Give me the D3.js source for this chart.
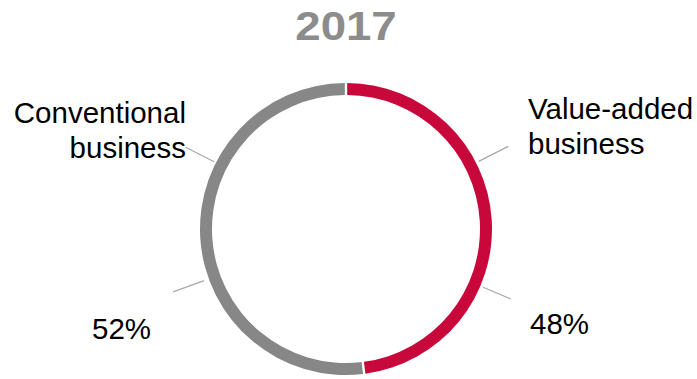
<!DOCTYPE html>
<html>
<head>
<meta charset="utf-8">
<script src="https://cdn.jsdelivr.net/npm/d3@7"></script>
<style>
  body { margin: 0; background: #fff; }
  svg text { font-family: "Liberation Sans", Arial, sans-serif; }
</style>
</head>
<body>
<div id="chart"></div>
<script>
// data
const title = "2017"
const segments = ["Value-added business", "Conventional business"]
const shares = [48, 52]
const colors = ["#c8083a", "#878787"]

const width = 697
const height = 379
const cx = 346, cy = 229
const outer = 146, inner = 134

let svg = d3.select("#chart")
            .append("svg")
            .attr("width", width)
            .attr("height", height)

svg.append("text")
   .attr("x", 0)
   .attr("y", 40)
   .attr("transform", "translate(346,0) scale(1.14,1)")
   .attr("text-anchor", "middle")
   .attr("font-size", 40)
   .attr("font-weight", "bold")
   .attr("fill", "#8c8c8c")
   .text(title)

let pie = d3.pie().sort(null).padAngle(0.012)
let arc = d3.arc().innerRadius(inner).outerRadius(outer)

let g = svg.append("g").attr("transform", `translate(${cx},${cy})`)

g.selectAll("path")
 .data(pie(shares))
 .enter()
 .append("path")
 .attr("d", arc)
 .attr("fill", (d, i) => colors[i])

// leader lines: name lines near the top, value lines near the bottom
let deg = Math.PI / 180
let leaders = [
  { a: 63 * deg, r0: 149, r1: 182 },
  { a: 113 * deg, r0: 149, r1: 179 },
  { a: -63 * deg, r0: 148, r1: 180 },
  { a: -110 * deg, r0: 151, r1: 184 }
]
g.selectAll("line")
 .data(leaders)
 .enter()
 .append("line")
 .attr("x1", d => d.r0 * Math.sin(d.a))
 .attr("y1", d => -d.r0 * Math.cos(d.a))
 .attr("x2", d => d.r1 * Math.sin(d.a))
 .attr("y2", d => -d.r1 * Math.cos(d.a))
 .attr("stroke", "#a8a8a8")
 .attr("stroke-width", 1.2)

function label(x, y, lines, anchor) {
  let t = svg.append("text")
             .attr("x", x)
             .attr("y", y)
             .attr("text-anchor", anchor)
             .attr("font-size", 29.5)
             .attr("fill", "#000")
  lines.forEach((s, i) => {
    t.append("tspan").attr("x", x).attr("dy", i ? 35 : 0).text(s)
  })
}

label(528, 119, segments[0].split(" "), "start")
label(186, 123, segments[1].split(" "), "end")
label(530, 334, [shares[0] + "%"], "start")
label(92, 339, [shares[1] + "%"], "start")
</script>
</body>
</html>
